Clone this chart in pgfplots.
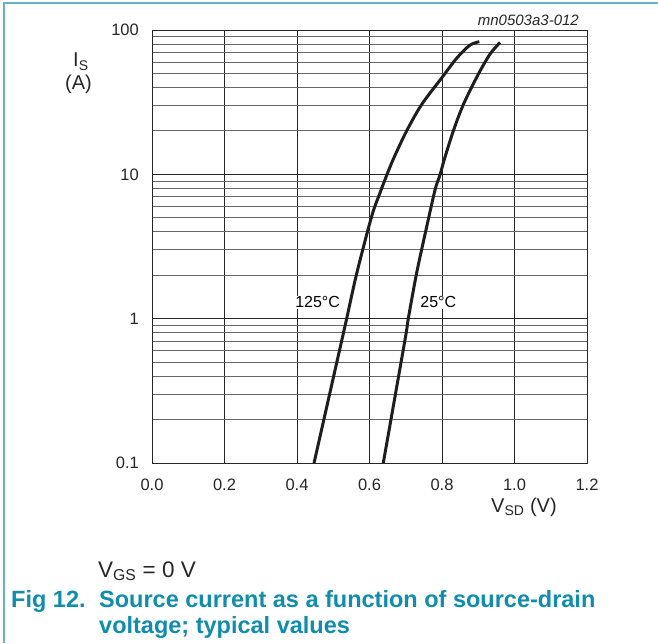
\documentclass[border=0pt]{standalone}
\usepackage{pgfplots}
\pgfplotsset{compat=1.18}
\usepackage{fontspec}
\setmainfont{Liberation Sans}
\definecolor{framec}{RGB}{105,178,195}
\definecolor{capc}{RGB}{16,140,172}
\definecolor{curvec}{RGB}{30,30,30}
\begin{document}
\begin{tikzpicture}[x=1pt,y=1pt]
\useasboundingbox (0,0) rectangle (658,643);
\draw[framec, line width=2pt] (4,0) -- (4,640) -- (658,640);
\begin{axis}[
  at={(152pt,180pt)}, anchor=south west,
  scale only axis, width=435pt, height=433pt,
  xmin=0, xmax=1.2, ymin=0.1, ymax=100, ymode=log,
  xtick={0,0.2,0.4,0.6,0.8,1.0,1.2},
  xticklabels={0.0,0.2,0.4,0.6,0.8,1.0,1.2},
  ytick={0.1,1,10,100},
  yticklabels={0.1,1,10,100},
  major tick length=0pt, minor tick length=0pt,
  grid=both,
  major grid style={black!85, line width=0.9pt},
  minor grid style={black!60, line width=0.8pt},
  axis line style={black!85, line width=0.9pt},
  xticklabel style={font=\fontsize{16.5}{19}\selectfont, inner sep=0pt, anchor=north, yshift=-16pt, text=black!85},
  yticklabel style={font=\fontsize{16.5}{19}\selectfont, inner sep=0pt, anchor=east, xshift=-13pt, text=black!85},
  clip=false,
]
\addplot[curvec, line width=3pt, smooth] coordinates {
(0.447,0.1) (0.501,0.398) (0.524,0.716) (0.537,1.0) (0.565,2.07) (0.606,5.12) (0.629,7.44) (0.645,9.5) (0.666,12.8) (0.702,19.9) (0.744,30.5) (0.799,46.5) (0.841,64) (0.877,78.5) (0.903,83)
};
\addplot[curvec, line width=3pt, smooth] coordinates {
(0.638,0.1) (0.698,0.716) (0.707,1.0) (0.730,2.07) (0.758,4.36) (0.781,7.83) (0.795,10) (0.806,12.6) (0.831,19.9) (0.859,30.5) (0.900,49.3) (0.932,67.8) (0.960,82)
};
\node[fill=white, inner sep=1pt, anchor=base west, font=\fontsize{16}{19}\selectfont] at (axis cs:0.392,1.19) {125°C};
\node[fill=white, inner sep=1pt, anchor=base west, font=\fontsize{16}{19}\selectfont] at (axis cs:0.737,1.19) {25°C};
\end{axis}
\node[anchor=base west, inner sep=0pt, font=\fontsize{20}{24}\selectfont, text=black!85] at (73,576) {I\textsubscript{S}};
\node[anchor=base west, inner sep=0pt, font=\fontsize{20}{24}\selectfont, text=black!85] at (65,553) {(A)};
\node[anchor=base west, inner sep=0pt, font=\fontsize{20}{24}\selectfont, text=black!85] at (491,131) {V\textsubscript{SD} (V)};
\node[anchor=base east, inner sep=0pt, font=\fontsize{15}{18}\selectfont\itshape, text=black!85] at (579,617) {mn0503a3-012};
\node[anchor=base west, inner sep=0pt, font=\fontsize{22.5}{27}\selectfont, text=black!85] at (98,66) {V\textsubscript{GS} = 0 V};
\node[anchor=base west, inner sep=0pt, font=\fontsize{23.5}{28}\selectfont\bfseries, text=capc] at (11,36) {Fig 12.};
\node[anchor=base west, inner sep=0pt, font=\fontsize{23.5}{28}\selectfont\bfseries, text=capc] at (99,36) {Source current as a function of source-drain};
\node[anchor=base west, inner sep=0pt, font=\fontsize{23.5}{28}\selectfont\bfseries, text=capc] at (99,10) {voltage; typical values};
\end{tikzpicture}
\end{document}
